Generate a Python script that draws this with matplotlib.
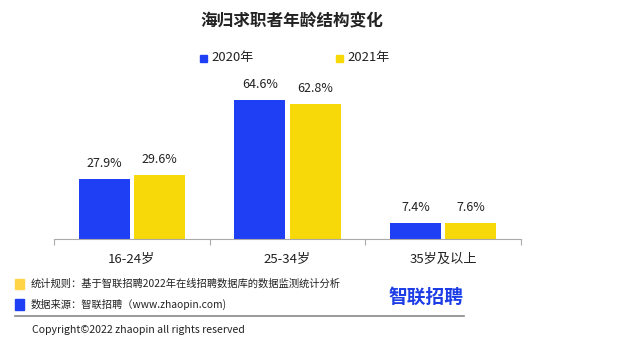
import matplotlib
matplotlib.use("Agg")
import matplotlib.pyplot as plt
import numpy as np
from matplotlib.patches import Rectangle
from matplotlib.lines import Line2D

plt.rcParams['font.family'] = ['Noto Sans CJK SC', 'DejaVu Sans']

categories = ["16-24岁", "25-34岁", "35岁及以上"]
series_names = ["2020年", "2021年"]
values_2020 = [27.9, 64.6, 7.4]
values_2021 = [29.6, 62.8, 7.6]
labels_2020 = ["27.9%", "64.6%", "7.4%"]
labels_2021 = ["29.6%", "62.8%", "7.6%"]

BLUE = "#1f3ff5"
YELLOW = "#f7d808"

W, H = 640, 352
fig = plt.figure(figsize=(6.4, 3.52), dpi=100)

def fx(px): return px / W
def fy(py): return 1 - py / H

ax_left, ax_right, ax_base = 54, 521, 239
ymax = 70
ax_h = ymax * 2.15
ax = fig.add_axes([fx(ax_left), fy(ax_base), fx(ax_right - ax_left), ax_h / H])

x = np.arange(len(categories))
bw = 0.328
gap = 0.026
b1 = ax.bar(x - bw / 2 - gap / 2, values_2020, bw, color=BLUE)
b2 = ax.bar(x + bw / 2 + gap / 2, values_2021, bw, color=YELLOW)
for bars, labs in ((b1, labels_2020), (b2, labels_2021)):
    for r, t in zip(bars, labs):
        ax.annotate(t, (r.get_x() + r.get_width() / 2, r.get_height()),
                    xytext=(0, 6.5), textcoords="offset points",
                    ha="center", va="bottom", fontsize=9, color="#222222")

ax.set_xlim(-0.5, len(categories) - 0.5)
ax.set_ylim(0, ymax)
for s in ("top", "right", "left"):
    ax.spines[s].set_visible(False)
ax.spines["bottom"].set_color("#aaaaaa")
ax.set_yticks([])
ax.set_xticks(np.arange(len(categories) + 1) - 0.5, minor=False)
ax.set_xticklabels([])
ax.tick_params(axis="x", length=4, color="#aaaaaa", direction="out")
ax.set_xticks(x, minor=True)
ax.set_xticklabels(categories, minor=True, fontsize=9.5, color="#222222")
ax.tick_params(axis="x", which="minor", length=0, pad=10)

# title
fig.text(fx(292), fy(21), "海归求职者年龄结构变化", ha="center", va="center",
         fontsize=12, fontweight="bold", color="#222222")

# legend
for px_, name, c in ((200, series_names[0], BLUE), (336, series_names[1], YELLOW)):
    fig.add_artist(Rectangle((fx(px_), fy(62)), fx(7), 7 / H, color=c, transform=fig.transFigure))
    fig.text(fx(px_ + 11), fy(58), name, ha="left", va="center", fontsize=9.4, color="#222222")

# footer
fig.add_artist(Rectangle((fx(15), fy(289)), fx(9), 10 / H, color="#ffd447", transform=fig.transFigure))
fig.add_artist(Rectangle((fx(15), fy(310)), fx(9), 11 / H, color=BLUE, transform=fig.transFigure))
fig.text(fx(31), fy(284), "统计规则：基于智联招聘2022年在线招聘数据库的数据监测统计分析",
         ha="left", va="center", fontsize=7.4, color="#222222")
fig.text(fx(31), fy(304), "数据来源：智联招聘（www.zhaopin.com)",
         ha="left", va="center", fontsize=7.4, color="#222222")
fig.text(fx(426), fy(297), "智联招聘", ha="center", va="center",
         fontsize=13.5, fontweight="bold", color="#1c3ce6")
fig.add_artist(Line2D([fx(15), fx(464)], [fy(316), fy(316)], color="#888888", lw=1.2,
                      transform=fig.transFigure))
fig.text(fx(32), fy(330), "Copyright©2022 zhaopin all rights reserved",
         ha="left", va="center", fontsize=7.6, color="#222222")

fig.savefig("out.png", dpi=100)
